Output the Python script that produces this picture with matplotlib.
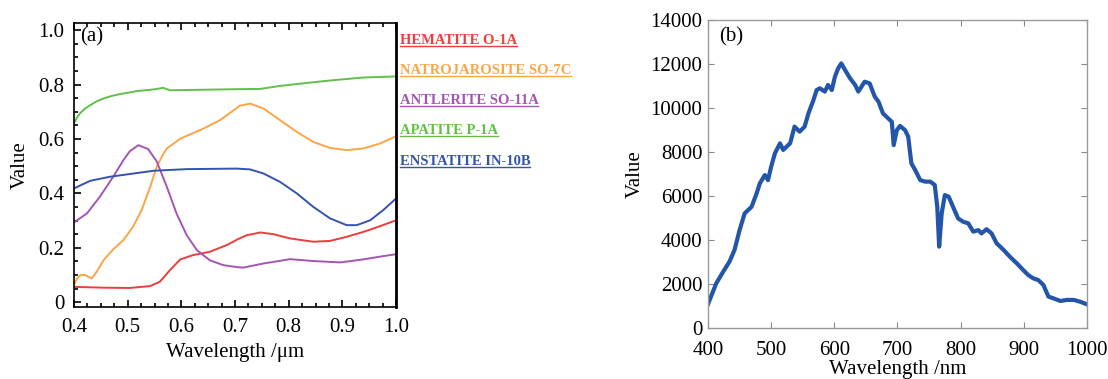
import numpy as np
import matplotlib
matplotlib.use('Agg')
import matplotlib.pyplot as plt
from matplotlib.lines import Line2D

plt.rcParams['font.family'] = ['Liberation Serif', 'DejaVu Serif']

# ---- panel (a): reflectance spectra (wavelength in um) ----
hematite_x = [0.40, 0.455, 0.504, 0.542, 0.56, 0.579, 0.598, 0.622, 0.653, 0.685, 0.706,
              0.722, 0.747, 0.771, 0.803, 0.846, 0.877, 0.908, 0.939, 0.970, 1.00]
hematite_y = [0.056, 0.053, 0.052, 0.059, 0.075, 0.118, 0.157, 0.173, 0.185, 0.21, 0.232,
              0.246, 0.256, 0.25, 0.234, 0.222, 0.225, 0.24, 0.258, 0.279, 0.301]

natro_x = [0.40, 0.405, 0.412, 0.42, 0.433, 0.442, 0.455, 0.473, 0.492, 0.51, 0.526, 0.542,
           0.554, 0.565, 0.573, 0.598, 0.641, 0.672, 0.709, 0.728, 0.753, 0.784, 0.815,
           0.846, 0.877, 0.908, 0.939, 0.970, 1.00]
natro_y = [0.062, 0.085, 0.099, 0.10, 0.087, 0.111, 0.154, 0.194, 0.228, 0.277, 0.338, 0.424,
           0.497, 0.540, 0.565, 0.601, 0.638, 0.669, 0.722, 0.730, 0.712, 0.669, 0.626,
           0.589, 0.567, 0.559, 0.565, 0.583, 0.610]

antlerite_x = [0.40, 0.424, 0.448, 0.473, 0.492, 0.504, 0.52, 0.538, 0.554, 0.573, 0.591,
               0.61, 0.629, 0.653, 0.678, 0.706, 0.716, 0.753, 0.803, 0.846, 0.896, 0.939,
               0.976, 1.00]
antlerite_y = [0.293, 0.326, 0.387, 0.461, 0.522, 0.555, 0.577, 0.563, 0.518, 0.424, 0.326,
               0.246, 0.191, 0.154, 0.136, 0.128, 0.127, 0.142, 0.158, 0.151, 0.146, 0.157,
               0.169, 0.176]

apatite_x = [0.40, 0.405, 0.411, 0.42, 0.43, 0.442, 0.455, 0.47, 0.486, 0.517, 0.548, 0.566,
             0.579, 0.64, 0.703, 0.747, 0.784, 0.815, 0.877, 0.939, 1.00]
apatite_y = [0.657, 0.677, 0.694, 0.711, 0.724, 0.738, 0.749, 0.758, 0.765, 0.776, 0.782,
             0.788, 0.779, 0.781, 0.783, 0.784, 0.795, 0.802, 0.815, 0.826, 0.830]

enstatite_x = [0.40, 0.43, 0.467, 0.504, 0.548, 0.61, 0.703, 0.728, 0.753, 0.784, 0.815,
               0.846, 0.877, 0.908, 0.927, 0.952, 0.976, 1.00]
enstatite_y = [0.418, 0.446, 0.461, 0.471, 0.483, 0.489, 0.491, 0.488, 0.473, 0.442, 0.40,
               0.35, 0.308, 0.283, 0.283, 0.301, 0.338, 0.381]

names = ['HEMATITE O-1A', 'NATROJAROSITE SO-7C', 'ANTLERITE SO-11A', 'APATITE P-1A',
         'ENSTATITE IN-10B']
colors = ['#f03c3c', '#fca546', '#a455b4', '#62bf4a', '#3553b0']

# ---- panel (b): spectrum (wavelength in nm) ----
spec_x = [400, 413, 424, 434, 442, 450, 458, 469, 477, 482, 490, 495, 500, 506, 514, 519,
          530, 537, 545, 553, 559, 567, 572, 577, 585, 590, 596, 601, 606, 611, 617, 625,
          633, 638, 643, 648, 656, 664, 670, 677, 685, 691, 694, 699, 704, 712, 717, 722,
          728, 736, 744, 752, 759, 763, 766, 770, 775, 781, 789, 796, 804, 812, 820, 828,
          833, 841, 849, 857, 868, 878, 889, 899, 907, 915, 923, 931, 939, 947, 958, 968,
          979, 989, 1000]
spec_y = [1100, 2040, 2570, 3030, 3560, 4460, 5220, 5520, 6130, 6580, 6960, 6730, 7340,
          7950, 8400, 8100, 8400, 9160, 8930, 9160, 9760, 10370, 10820, 10900, 10750, 11050,
          10820, 11430, 11800, 12030, 11730, 11350, 11050, 10750, 10970, 11200, 11120, 10520,
          10290, 9760, 9540, 9380, 8320, 9000, 9190, 9000, 8700, 7490, 7190, 6730, 6660, 6660,
          6510, 5520, 3710, 5220, 6050, 5980, 5450, 4990, 4840, 4770, 4390, 4460, 4310, 4500,
          4310, 3860, 3560, 3250, 2950, 2650, 2420, 2270, 2190, 1970, 1440, 1360, 1240, 1290,
          1290, 1210, 1090]

fig = plt.figure(figsize=(11.08, 3.79), dpi=100)

# panel (a)
ax1 = fig.add_axes([0.0668, 0.19, 0.2906, 0.749])
series = [(hematite_x, hematite_y), (natro_x, natro_y), (antlerite_x, antlerite_y),
          (apatite_x, apatite_y), (enstatite_x, enstatite_y)]
for (xs, ys), c in zip(series, colors):
    ax1.plot(xs, ys, color=c, lw=1.4)
ax1.set_xlim(0.4, 1.0)
ax1.set_ylim(-0.018, 1.026)
ax1.set_xticks(np.arange(0.4, 1.01, 0.1))
ax1.set_xticklabels(['0.4', '0.5', '0.6', '0.7', '0.8', '0.9', '1.0'])
ax1.set_yticks([0, 0.2, 0.4, 0.6, 0.8, 1.0])
ax1.set_yticklabels(['0', '0.2', '0.4', '0.6', '0.8', '1.0'])
ax1.set_xticks(np.arange(0.4, 1.001, 0.025), minor=True)
ax1.set_yticks(np.arange(0, 1.01, 0.05), minor=True)
ax1.tick_params(which='both', direction='in', top=True, right=False, labelsize=15, width=1.2)
ax1.tick_params(which='major', length=5)
ax1.tick_params(which='minor', length=3)
ax1.tick_params(axis='x', pad=8)
ax1.tick_params(axis='y', pad=7)
for s in ax1.spines.values():
    s.set_linewidth(1.2)
ax1.spines['right'].set_linewidth(2)
ax1.set_xlabel('Wavelength /\u03bcm', fontsize=15, labelpad=4)
ax1.set_ylabel('Value', fontsize=15, labelpad=6)
ax1.text(0.02, 0.985, '(a)', transform=ax1.transAxes, fontsize=15, va='top', ha='left')

# legend as underlined coloured labels to the right of panel (a)
legend_y = [40.7, 70.7, 101, 131, 161.7]
label_texts = []
for name, c, yy in zip(names, colors, legend_y):
    t = fig.text(399.5 / 1108, 1 - yy / 379, name, color=c, fontsize=10.5, fontweight='bold',
                 va='center', ha='left')
    label_texts.append(t)

# panel (b)
ax2 = fig.add_axes([0.639, 0.1337, 0.342, 0.8135])
ax2.plot(spec_x, spec_y, color='#2356aa', lw=3, solid_joinstyle='round')
ax2.set_xlim(400, 1000)
ax2.set_ylim(0, 14000)
ax2.set_xticks(range(400, 1001, 100))
ax2.set_yticks(range(0, 14001, 2000))
ax2.tick_params(direction='in', top=True, right=True, length=4, color='#888888',
                labelsize=15)
ax2.tick_params(axis='x', pad=9)
ax2.tick_params(axis='y', pad=4)
for s in ax2.spines.values():
    s.set_color('#999999')
    s.set_linewidth(1.0)
ax2.set_xlabel('Wavelength /nm', fontsize=15, labelpad=0)
ax2.set_ylabel('Value', fontsize=15, labelpad=4)
ax2.text(0.03, 0.975, '(b)', transform=ax2.transAxes, fontsize=15, va='top', ha='left')

# underline the legend labels
fig.canvas.draw()
renderer = fig.canvas.get_renderer()
inv = fig.transFigure.inverted()
for t, c in zip(label_texts, colors):
    bb = t.get_window_extent(renderer)
    (x0, y0), (x1, y1) = inv.transform([[bb.x0, bb.y0], [bb.x1, bb.y1]])
    yline = y0 + 0.1 * (y1 - y0)
    fig.add_artist(Line2D([x0, x1], [yline, yline], transform=fig.transFigure,
                          color=c, lw=1.0))

fig.savefig('out.png', dpi=100)
